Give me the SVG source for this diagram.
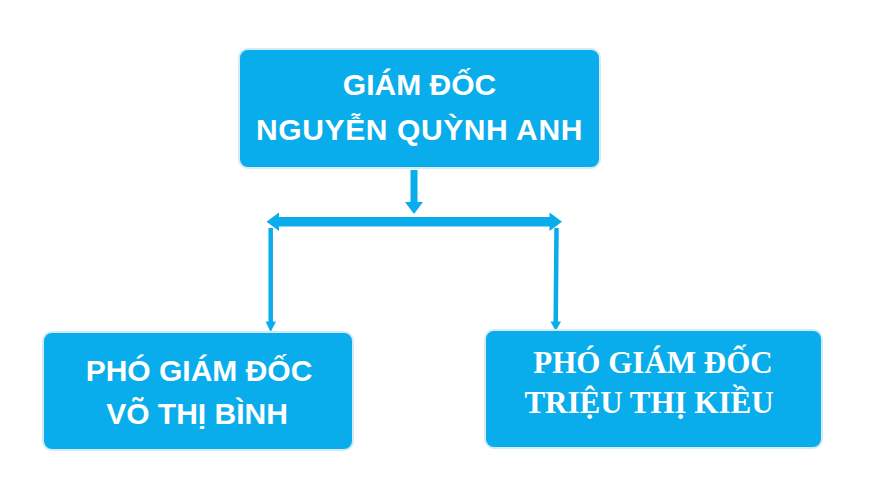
<svg xmlns="http://www.w3.org/2000/svg" width="878" height="494" viewBox="0 0 878 494">
<style>
.box{fill:#0aadeb;stroke:#d4ebf4;stroke-width:2}
.sans{font-family:"Liberation Sans",Arial,sans-serif;font-weight:bold;font-size:30px;fill:#ffffff;text-anchor:middle}
.serif{font-family:"Liberation Serif","Times New Roman",serif;font-weight:bold;font-size:31px;fill:#ffffff;text-anchor:middle}
.conn{fill:#0aadeb;stroke:none}
.line{stroke:#0aadeb;fill:none}
</style>
<rect width="878" height="494" fill="#ffffff"/>
<g id="connectors">
  <rect class="conn" x="410.5" y="170" width="7" height="33"/>
  <polygon class="conn" points="405,202 423,202 414,214"/>
  <rect class="conn" x="277" y="217" width="274" height="9.5"/>
  <polygon class="conn" points="266.5,221.7 279,212.5 279,231"/>
  <polygon class="conn" points="562,221.7 549.5,212.5 549.5,231"/>
  <line class="line" x1="270.7" y1="228" x2="270.7" y2="324" stroke-width="4.5"/>
  <polygon class="conn" points="265.5,321.5 276,321.5 270.7,332"/>
  <line class="line" x1="556.5" y1="228" x2="555.7" y2="324" stroke-width="4.5"/>
  <polygon class="conn" points="550.5,321.5 561,321.5 555.7,331"/>
</g>
<g id="node-giam-doc">
  <rect class="box" x="239" y="49" width="361" height="119" rx="9"/>
  <text class="sans" x="419.5" y="95">GIÁM ĐỐC</text>
  <text class="sans" x="419.5" y="140" letter-spacing="0.6">NGUYỄN QUỲNH ANH</text>
</g>
<g id="node-pho-giam-doc-1">
  <rect class="box" x="43" y="332" width="310" height="118" rx="9"/>
  <text class="sans" x="199" y="381">PHÓ GIÁM ĐỐC</text>
  <text class="sans" x="197" y="424">VÕ THỊ BÌNH</text>
</g>
<g id="node-pho-giam-doc-2">
  <rect class="box" x="485" y="330" width="337" height="118" rx="9"/>
  <text class="serif" x="653" y="373">PHÓ GIÁM ĐỐC</text>
  <text class="serif" x="649" y="413">TRIỆU THỊ KIỀU</text>
</g>
</svg>
